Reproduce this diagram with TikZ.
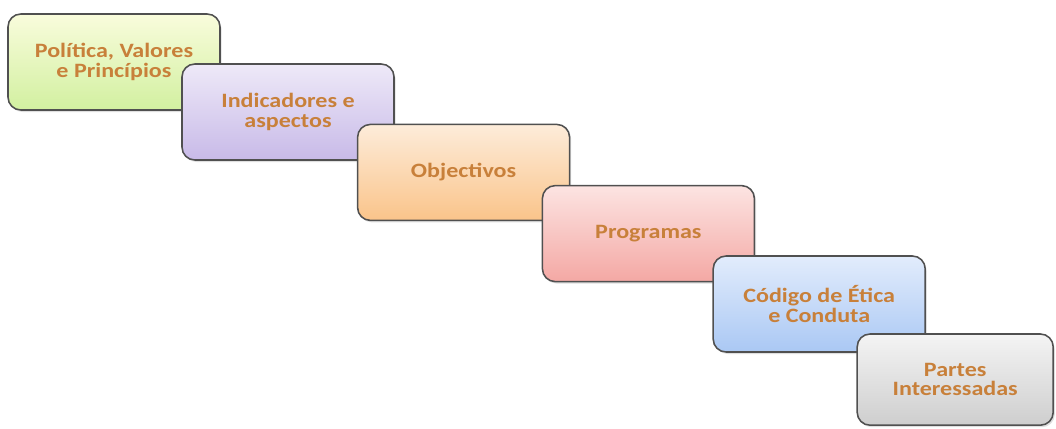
\documentclass[tikz,border=0pt]{standalone}
\usepackage{fontspec}
\setmainfont[FakeStretch=1.18]{Carlito}
\usepackage{tikz}
\usetikzlibrary{shadows}
\usetikzlibrary{positioning}

\definecolor{txtorange}{RGB}{200,128,58}
\definecolor{boxline}{RGB}{80,80,80}
\definecolor{greentop}{RGB}{249,252,220}
\definecolor{greenbot}{RGB}{210,240,160}
\definecolor{lilactop}{RGB}{238,233,248}
\definecolor{lilacbot}{RGB}{200,186,232}
\definecolor{orangetop}{RGB}{253,236,218}
\definecolor{orangebot}{RGB}{250,196,138}
\definecolor{pinktop}{RGB}{252,228,226}
\definecolor{pinkbot}{RGB}{244,168,164}
\definecolor{bluetop}{RGB}{226,236,252}
\definecolor{bluebot}{RGB}{170,200,244}
\definecolor{graytop}{RGB}{244,244,244}
\definecolor{graybot}{RGB}{206,206,206}

\tikzset{
  stairbox/.style={draw=boxline, line width=1.1pt, rounded corners=0.32cm,
    minimum width=5.3cm, minimum height=2.4cm, align=center,
    text=txtorange, font=\fontsize{14.5}{14}\selectfont\bfseries,
    drop shadow={shadow xshift=0.04cm, shadow yshift=-0.05cm, opacity=0.25}},
}

\begin{document}
\begin{tikzpicture}
\useasboundingbox (0,0) rectangle (26.4,-10.7);

%steps
\node[stairbox, top color=greentop, bottom color=greenbot]
  (politica) at (2.85,-1.55) {Política, Valores\\e Princípios};
\node[stairbox, top color=lilactop, bottom color=lilacbot]
  (indicadores) at (7.2,-2.8) {Indicadores e\\aspectos};
\node[stairbox, top color=orangetop, bottom color=orangebot]
  (objectivos) at (11.59,-4.31) {Objectivos};
\node[stairbox, top color=pinktop, bottom color=pinkbot]
  (programas) at (16.21,-5.84) {Programas};
\node[stairbox, top color=bluetop, bottom color=bluebot]
  (codigo) at (20.48,-7.6) {Código de Ética\\e Conduta};
\node[stairbox, minimum width=4.9cm, minimum height=2.28cm,
  top color=graytop, bottom color=graybot]
  (partes) at (23.88,-9.49) {Partes\\Interessadas};

\end{tikzpicture}
\end{document}
